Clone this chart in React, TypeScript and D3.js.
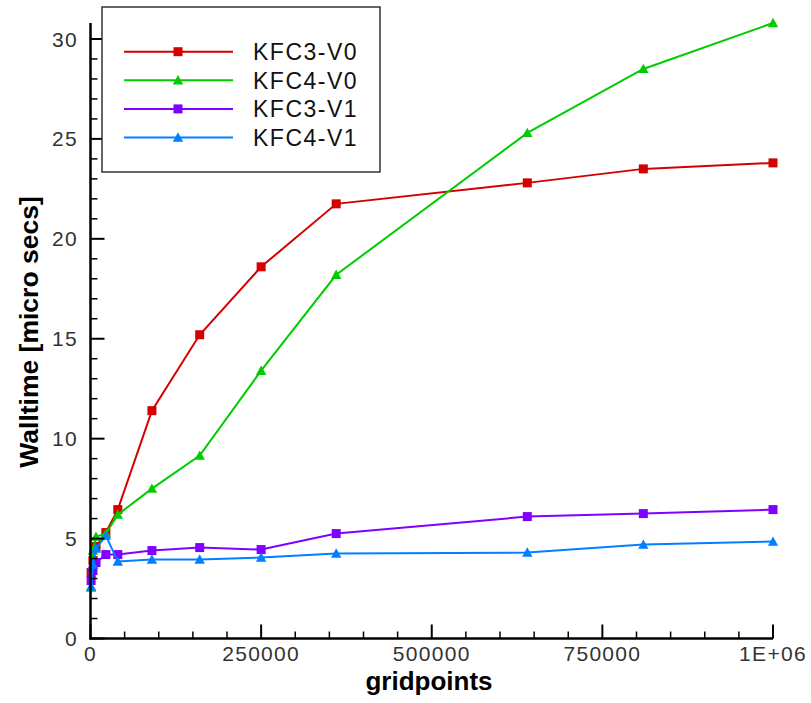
import React from "react";
import * as d3 from "d3";

const gridpoints = [900, 3600, 8100, 22500, 40000, 90000, 160000, 250000, 360000, 640000, 810000, 1000000];
const kfc3v0 = [3.3, 3.9, 4.6, 5.3, 6.45, 11.4, 15.2, 18.6, 21.75, 22.8, 23.5, 23.8];
const kfc4v0 = [2.55, 4.4, 5.1, 5.25, 6.2, 7.5, 9.15, 13.4, 18.2, 25.3, 28.5, 30.8];
const kfc3v1 = [2.9, 3.4, 3.8, 4.2, 4.2, 4.4, 4.55, 4.45, 5.25, 6.1, 6.25, 6.45];
const kfc4v1 = [2.6, 3.7, 4.5, 5.15, 3.85, 3.95, 3.95, 4.05, 4.25, 4.3, 4.7, 4.85];

const seriesNames = ["KFC3-V0", "KFC4-V0", "KFC3-V1", "KFC4-V1"];
const seriesColors = ["#d40000", "#00cc00", "#8000ff", "#0080ff"];
const seriesMarkers = ["square", "triangle", "square", "triangle"];
const xTicks = [0, 250000, 500000, 750000, 1000000];
const xTickLabels = ["0", "250000", "500000", "750000", "1E+06"];
const yTicks = [0, 5, 10, 15, 20, 25, 30];

const W = 811, H = 703;
const x = d3.scaleLinear().domain([0, 1000000]).range([90.5, 773]);
const y = d3.scaleLinear().domain([0, 30.8]).range([638.5, 23]);

function Marker({ kind, cx, cy, color }: { kind: string; cx: number; cy: number; color: string }) {
  if (kind === "square") {
    return <rect x={cx - 4.5} y={cy - 4.5} width={9} height={9} fill={color} />;
  }
  const s = 5.2;
  return <path d={`M${cx},${cy - s}L${cx + s},${cy + s * 0.8}L${cx - s},${cy + s * 0.8}Z`} fill={color} />;
}

export default function App() {
  const data = [kfc3v0, kfc4v0, kfc3v1, kfc4v1];
  const line = d3.line<number>().x((_, i) => x(gridpoints[i])).y((d) => y(d));
  const xMinor = d3.range(0, 1000001, 50000);
  const yMinor = d3.range(0, 31, 1);
  const font = "'Liberation Sans', Arial, sans-serif";
  return (
    <svg width={W} height={H} style={{ position: "absolute", left: 0, top: 0, background: "#fff" }}>
      <rect x={0} y={0} width={W} height={H} fill="#fff" />
      {data.map((vals, si) => (
        <g key={si}>
          <path d={line(vals) || ""} fill="none" stroke={seriesColors[si]} strokeWidth={2} />
          {vals.map((v, i) => (
            <Marker key={i} kind={seriesMarkers[si]} cx={x(gridpoints[i])} cy={y(v)} color={seriesColors[si]} />
          ))}
        </g>
      ))}
      <line x1={x(0)} x2={x(0)} y1={y(30.8)} y2={y(0) + 1} stroke="#000" strokeWidth={2.5} />
      <line x1={x(0) - 1} x2={x(1000000)} y1={y(0)} y2={y(0)} stroke="#000" strokeWidth={2.5} />
      {xMinor.map((t) => {
        const major = t % 250000 === 0;
        return (
          <line key={"xm" + t} x1={x(t)} x2={x(t)} y1={y(0)} y2={y(0) - (major ? 14 : 7)} stroke="#000" strokeWidth={major ? 2 : 1.5} />
        );
      })}
      {yMinor.map((t) => {
        const major = t % 5 === 0;
        return (
          <line key={"ym" + t} x1={x(0)} x2={x(0) + (major ? 14 : 7)} y1={y(t)} y2={y(t)} stroke="#000" strokeWidth={major ? 2 : 1.5} />
        );
      })}
      {xTicks.map((t, i) => (
        <text key={"xt" + t} x={x(t)} y={661} textAnchor="middle" fontFamily={font} fontSize={21} letterSpacing={1.3} fill="#333">
          {xTickLabels[i]}
        </text>
      ))}
      {yTicks.map((t) => (
        <text key={"yt" + t} x={78} y={y(t)} dy="0.36em" textAnchor="end" fontFamily={font} fontSize={21} letterSpacing={1.3} fill="#333">
          {t}
        </text>
      ))}
      <text x={429} y={690} textAnchor="middle" fontFamily={font} fontSize={26} fontWeight="bold" fill="#000">
        gridpoints
      </text>
      <text transform="translate(38,332) rotate(-90)" textAnchor="middle" fontFamily={font} fontSize={26.5} fontWeight="bold" fill="#000">
        Walltime [micro secs]
      </text>
      <rect x={102} y={7} width={278} height={165} fill="#fff" stroke="#333" strokeWidth={1.5} />
      {seriesNames.map((name, i) => {
        const ry = 51.7 + i * 28.6;
        return (
          <g key={name}>
            <line x1={124} x2={233} y1={ry} y2={ry} stroke={seriesColors[i]} strokeWidth={2} />
            <Marker kind={seriesMarkers[i]} cx={178} cy={ry} color={seriesColors[i]} />
            <text x={253} y={ry} dy="0.36em" fontFamily={font} fontSize={23} letterSpacing={1.5} fill="#111">
              {name}
            </text>
          </g>
        );
      })}
    </svg>
  );
}
